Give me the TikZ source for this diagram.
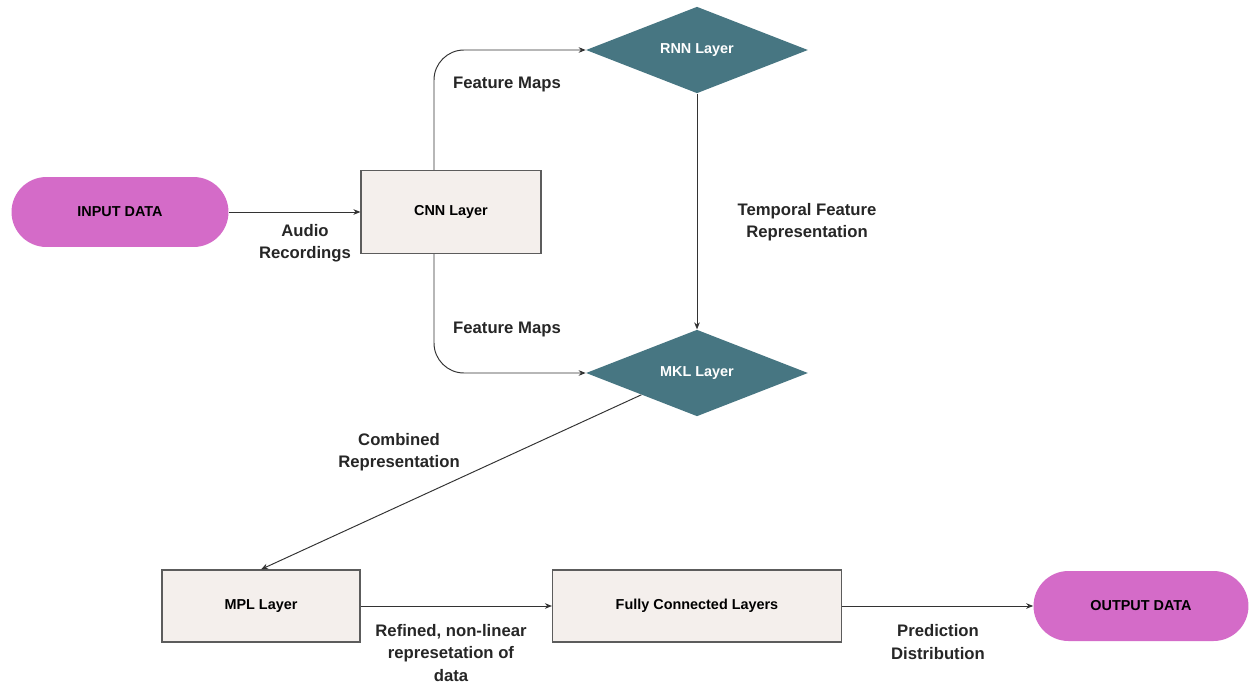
\documentclass[tikz,border=0pt]{standalone}
\usepackage{fontspec}
\setmainfont{Liberation Sans}
\usetikzlibrary{shapes.geometric,arrows.meta}
\definecolor{termfill}{HTML}{D46BC8}
\definecolor{boxfill}{HTML}{F4EFEC}
\definecolor{diafill}{HTML}{477682}
\definecolor{linegray}{HTML}{333333}
\begin{document}
\begin{tikzpicture}[x=0.02cm,y=-0.02cm,
    font=\bfseries\fontsize{8.2}{10}\selectfont,
    term/.style={rectangle,rounded corners=0.7cm,fill=termfill,text=black,
      minimum width=4.34cm,minimum height=1.4cm},
    layer/.style={rectangle,draw=linegray!80,fill=boxfill,line width=0.7pt,text=black},
    decide/.style={diamond,fill=diafill,text=white,inner sep=0pt,
      minimum width=4.44cm,minimum height=1.72cm},
    lbl/.style={align=center,font=\bfseries\fontsize{9.5}{12.6}\selectfont,text=black!85},
    flow/.style={draw=linegray,line width=0.55pt,-{Stealth[length=4pt,width=3.2pt]}}]
  \fill[white] (0,0) rectangle (1251,683);
  \useasboundingbox (0,0) rectangle (1251,683);
  \draw
    (120,212) node[term] (input) {INPUT DATA}
    (451,212) node[layer,minimum width=3.6cm,minimum height=1.66cm] (cnn) {CNN Layer}
    (697,50) node[decide] (rnn) {RNN Layer}
    (697,373) node[decide] (mkl) {MKL Layer}
    (261,606) node[layer,minimum width=3.96cm,minimum height=1.44cm] (mpl) {MPL Layer}
    (697,606) node[layer,minimum width=5.78cm,minimum height=1.44cm] (fc) {Fully Connected Layers}
    (1141,606) node[term,minimum width=4.3cm] (output) {OUTPUT DATA};
  \draw
    (305,243) node[lbl] (audio) {Audio\\Recordings}
    (507,84) node[lbl] (fmtop) {Feature Maps}
    (507,329) node[lbl] (fmbot) {Feature Maps}
    (807,222) node[lbl] (temporal) {Temporal Feature\\Representation}
    (399,452) node[lbl] (combined) {Combined\\Representation}
    (451,653) node[lbl] (refined) {Refined, non-linear\\represetation of\\data}
    (938,642) node[lbl] (pred) {Prediction\\Distribution};
  \coordinate (cnntop) at ([xshift=-0.34cm]cnn.north);
  \coordinate (cnnbot) at ([xshift=-0.34cm]cnn.south);
  \begin{scope}[flow]
    \draw (input) to (cnn);
    \draw[rounded corners=0.6cm] (cnntop) |- (rnn.west);
    \draw[rounded corners=0.6cm] (cnnbot) |- (mkl.west);
    \draw (rnn.south) to (mkl.north);
    \draw (mkl.south west) to (mpl.north);
    \draw (mpl) to (fc);
    \draw (fc) to (output);
  \end{scope}
\end{tikzpicture}
\end{document}
